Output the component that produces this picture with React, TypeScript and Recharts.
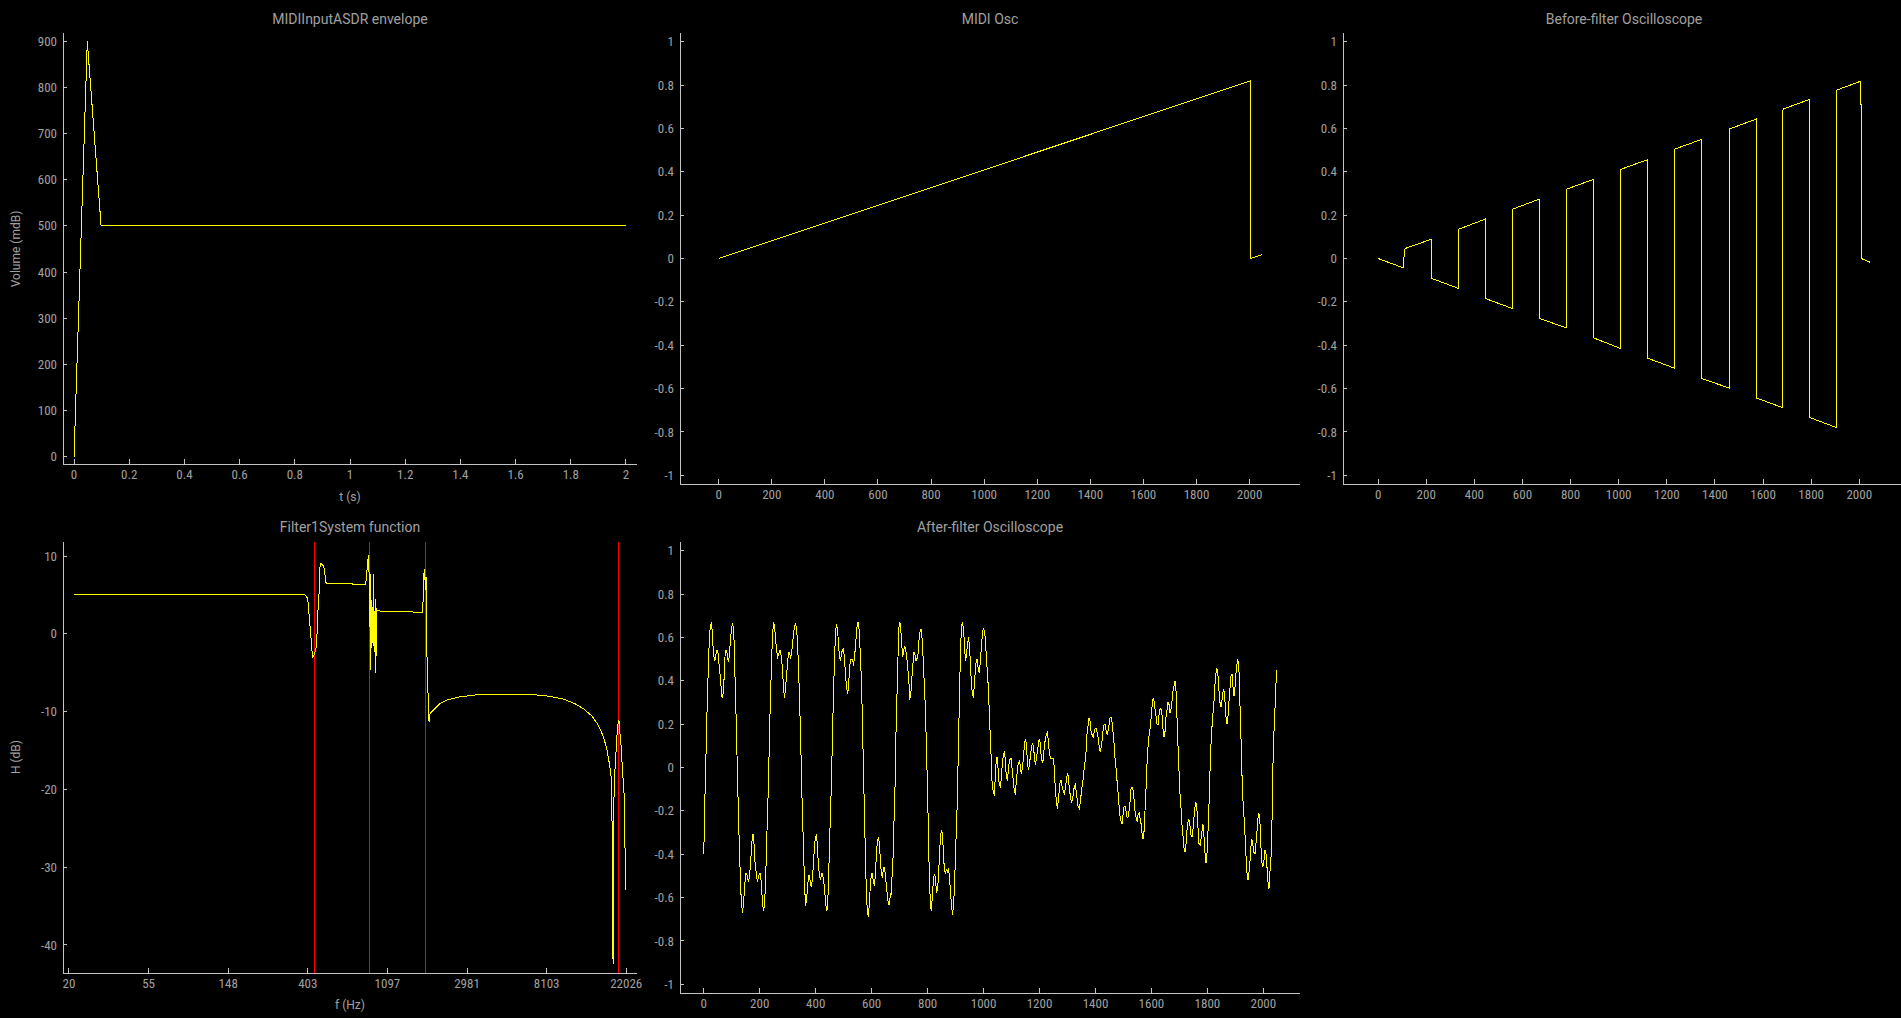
import React from 'react';
import { LineChart, Line, XAxis, YAxis, ReferenceLine } from 'recharts';

// ---------- data ----------
const asdrTime = [0, 0.048, 0.098, 2.0];
const asdrVolume = [0, 900, 500, 500];

const oscSample = [0, 2003, 2004, 2047];
const oscValue = [0, 0.819, 0, 0.018];

const beforeFilter: [number, number][] = [
  [0, 0], [107, -0.044], [108, 0.038], [112, 0.046], [222, 0.089], [223, -0.092], [334, -0.138],
  [335, 0.135], [446, 0.182], [447, -0.185], [559, -0.231], [560, 0.228], [671, 0.274],
  [672, -0.277], [783, -0.32], [784, 0.32], [895, 0.365], [896, -0.366], [1007, -0.415],
  [1008, 0.411], [1118, 0.455], [1120, 0.0], [1121, -0.46], [1230, -0.505], [1231, 0.055],
  [1233, 0.06], [1234, 0.505], [1344, 0.549], [1345, -0.554], [1459, -0.597], [1460, 0.597],
  [1571, 0.643], [1572, -0.643], [1682, -0.688], [1683, 0.689], [1794, 0.734], [1795, -0.734],
  [1906, -0.78], [1907, 0.777], [2007, 0.818], [2008, 0], [2046, -0.018],
];

const filterFreq = [
  21.5, 389.5, 403, 411, 418, 427, 430, 440, 447, 453, 458, 466, 470, 474, 484, 493, 499, 505, 511,
  835, 845, 856, 863, 870, 878, 885, 889, 900, 907, 923, 927, 942, 947, 959, 966, 1490, 1709,
  1722, 1730, 1752, 1765, 1781, 1796, 1803, 1826, 1850, 1873, 1953, 2124, 2310, 2731, 3408, 4405,
  6621, 8140, 9990, 11640, 12910, 14290, 15460, 16520, 17290, 17930, 18200, 18380, 18470, 18660,
  18870, 19070, 19360, 19560, 19880, 20080, 20280, 20590, 20900, 21250, 21570, 21790,
];
const filterGain = [
  5.0, 5.0, 4.53, 2.17, 0.04, -2.74, -3.04, -2.53, -1.9, 0.04, 2.81, 5.6, 8.59, 9.02, 8.93, 8.59, 7.95, 6.66, 6.46,
  6.37, 7.74, 9.02, 10.09, 8.17, 0.89, 7.74, -4.67, 4.31, -1.24, 7.74, -2.32, 4.53, -5.09, 3.25, 2.94, 2.81, 2.73,
  5.6, 7.52, 8.38, 5.6, 7.3, 6.02, -2.96, -7.66, -11.3, -10.23, -9.8, -8.94, -8.52, -8.1, -7.82, -7.74,
  -7.78, -7.99, -8.38, -9.02, -9.66, -10.56, -11.7, -13.2, -14.9, -17.05, -18.3, -20.9, -28.4, -42.5,
  -21.3, -17.9, -15.3, -13.3, -11.5, -11.07, -12.35, -14.06, -16.6, -19.4, -21.5, -32.9,
];
const cutoffFreqs = [440, 880, 1760, 20000];

const afterFilter: [number, number][] = [
  [0, -0.4], [3, -0.19], [7, 0.0], [10, 0.19], [14, 0.36], [17, 0.5], [21, 0.62], [25, 0.66], [28, 0.67], [32, 0.58],
  [35, 0.52], [39, 0.49], [42, 0.51], [46, 0.54], [50, 0.54], [53, 0.5], [57, 0.44], [60, 0.41], [64, 0.33], [67, 0.32],
  [71, 0.36], [75, 0.5], [78, 0.54], [82, 0.54], [85, 0.5], [89, 0.49], [92, 0.53], [96, 0.6], [100, 0.65], [103, 0.66],
  [107, 0.64], [110, 0.49], [114, 0.31], [117, 0.15], [121, -0.06], [124, -0.23], [128, -0.4], [132, -0.56], [135, -0.63],
  [139, -0.67], [142, -0.62], [146, -0.56], [149, -0.49], [153, -0.49], [157, -0.51], [160, -0.53], [164, -0.49],
  [167, -0.45], [171, -0.36], [174, -0.31], [178, -0.31], [182, -0.42], [185, -0.46], [189, -0.5], [192, -0.53],
  [196, -0.5], [199, -0.49], [203, -0.49], [207, -0.56], [210, -0.63], [214, -0.66], [217, -0.63], [221, -0.53],
  [224, -0.37], [228, -0.21], [232, -0.03], [235, 0.17], [239, 0.34], [242, 0.49], [246, 0.61], [249, 0.67], [253, 0.65],
  [257, 0.59], [260, 0.54], [264, 0.51], [267, 0.52], [271, 0.54], [274, 0.54], [278, 0.5], [282, 0.44], [285, 0.36],
  [289, 0.32], [292, 0.37], [296, 0.42], [299, 0.48], [303, 0.53], [307, 0.53], [310, 0.5], [314, 0.53], [317, 0.57],
  [321, 0.62], [324, 0.65], [328, 0.66], [332, 0.64], [335, 0.57], [339, 0.46], [342, 0.31], [346, 0.16], [349, -0.04],
  [353, -0.23], [357, -0.39], [360, -0.54], [364, -0.64], [367, -0.61], [371, -0.56], [374, -0.5], [378, -0.5],
  [382, -0.54], [385, -0.55], [389, -0.5], [392, -0.44], [396, -0.36], [399, -0.32], [403, -0.31], [407, -0.38],
  [410, -0.46], [414, -0.5], [417, -0.52], [421, -0.49], [424, -0.49], [428, -0.52], [432, -0.56], [435, -0.62],
  [439, -0.66], [442, -0.65], [446, -0.53], [449, -0.36], [453, -0.21], [457, -0.03], [460, 0.16], [464, 0.35],
  [467, 0.5], [471, 0.62], [474, 0.66], [478, 0.64], [482, 0.56], [485, 0.51], [489, 0.49], [492, 0.53], [496, 0.54],
  [499, 0.55], [503, 0.5], [507, 0.42], [510, 0.37], [514, 0.34], [517, 0.37], [521, 0.45], [524, 0.5], [528, 0.5],
  [532, 0.5], [535, 0.47], [539, 0.51], [542, 0.56], [546, 0.62], [549, 0.67], [553, 0.67], [557, 0.6], [560, 0.5],
  [564, 0.39], [567, 0.2], [571, -0.01], [574, -0.21], [578, -0.41], [581, -0.58], [585, -0.67], [589, -0.69],
  [592, -0.61], [596, -0.54], [599, -0.49], [603, -0.49], [606, -0.53], [610, -0.54], [614, -0.49], [617, -0.39],
  [621, -0.34], [624, -0.32], [628, -0.35], [631, -0.43], [635, -0.49], [639, -0.51], [642, -0.46], [646, -0.46],
  [649, -0.5], [653, -0.55], [656, -0.59], [660, -0.63], [664, -0.63], [667, -0.58],
  [670, -0.59], [673, -0.5], [677, -0.4], [679, -0.28], [683, -0.13], [686, 0.11], [690, 0.31], [694, 0.5], [697, 0.64],
  [701, 0.67], [704, 0.64], [708, 0.56], [711, 0.51], [715, 0.54], [718, 0.56], [722, 0.54], [726, 0.5], [729, 0.46],
  [733, 0.4], [736, 0.31], [740, 0.34], [743, 0.4], [747, 0.47], [751, 0.53], [754, 0.53], [758, 0.49], [761, 0.5],
  [765, 0.51], [768, 0.57], [772, 0.62], [776, 0.64], [779, 0.62], [783, 0.53], [786, 0.44], [790, 0.34], [793, 0.22],
  [797, 0.04], [801, -0.18], [804, -0.39], [808, -0.57], [811, -0.65], [814, -0.66], [817, -0.58], [821, -0.52],
  [824, -0.49], [828, -0.51], [832, -0.58], [835, -0.56], [839, -0.51], [842, -0.41], [846, -0.32], [849, -0.29],
  [853, -0.3], [857, -0.41], [860, -0.47], [864, -0.49], [867, -0.47], [871, -0.48], [874, -0.47], [878, -0.5],
  [882, -0.58], [885, -0.63], [889, -0.68], [892, -0.64], [896, -0.56], [899, -0.43], [903, -0.27], [907, -0.13],
  [910, 0.11], [914, 0.32], [917, 0.52], [921, 0.65], [924, 0.67], [928, 0.64], [932, 0.57], [935, 0.49], [939, 0.52],
  [942, 0.56], [946, 0.6], [949, 0.57], [953, 0.48], [956, 0.4], [960, 0.34], [964, 0.32], [967, 0.39], [971, 0.45],
  [974, 0.5], [978, 0.5], [981, 0.45], [985, 0.44], [989, 0.5], [992, 0.55], [996, 0.62], [999, 0.64], [1003, 0.63],
  [1006, 0.6], [1010, 0.51], [1014, 0.43], [1017, 0.37], [1021, 0.24], [1024, 0.14], [1028, 0.02], [1031, -0.09],
  [1035, -0.11], [1039, -0.13], [1042, -0.03], [1046, 0.04], [1049, 0.05], [1053, -0.03], [1056, -0.08], [1060, -0.09],
  [1064, -0.04], [1067, 0.02], [1071, 0.06], [1074, 0.07], [1078, 0.04], [1081, -0.04], [1085, -0.06], [1089, -0.01],
  [1092, 0.03], [1096, 0.04], [1099, 0.04], [1103, -0.02], [1106, -0.06], [1110, -0.11], [1114, -0.12], [1117, -0.06],
  [1121, -0.01], [1124, 0.02], [1128, 0.03], [1131, 0.01], [1135, -0.03], [1139, 0.0], [1142, 0.04], [1146, 0.1],
  [1149, 0.13], [1153, 0.11], [1156, 0.04], [1160, -0.01], [1164, 0.01], [1167, 0.05], [1171, 0.09], [1174, 0.11],
  [1178, 0.1], [1181, 0.06], [1185, 0.01], [1189, 0.04], [1192, 0.07], [1196, 0.11], [1199, 0.13], [1203, 0.11],
  [1206, 0.05], [1210, 0.02], [1214, 0.04], [1217, 0.1], [1221, 0.13], [1224, 0.15], [1228, 0.16], [1231, 0.13],
  [1235, 0.07], [1239, 0.04], [1242, 0.04], [1246, 0.04], [1249, 0.04], [1253, 0.0], [1256, -0.09], [1260, -0.15],
  [1264, -0.19], [1267, -0.15], [1271, -0.1], [1274, -0.06], [1278, -0.06], [1281, -0.09], [1285, -0.11], [1289, -0.12],
  [1292, -0.1], [1296, -0.06], [1299, -0.03], [1303, -0.04], [1306, -0.09], [1310, -0.13], [1314, -0.16], [1317, -0.15],
  [1321, -0.12], [1324, -0.09], [1328, -0.08], [1331, -0.11], [1335, -0.15], [1338, -0.18], [1342, -0.19], [1346, -0.16],
  [1349, -0.12], [1352, -0.09], [1356, -0.05], [1359, -0.01], [1363, 0.03], [1367, 0.08], [1370, 0.16], [1374, 0.2],
  [1377, 0.23], [1381, 0.21], [1384, 0.17], [1388, 0.15], [1392, 0.14], [1395, 0.16], [1399, 0.18], [1402, 0.18],
  [1406, 0.16], [1409, 0.14], [1413, 0.1], [1417, 0.07], [1420, 0.09], [1424, 0.13], [1427, 0.17], [1431, 0.2],
  [1434, 0.2], [1438, 0.17], [1442, 0.15], [1445, 0.17], [1449, 0.2], [1452, 0.23], [1456, 0.23], [1459, 0.21],
  [1463, 0.16], [1467, 0.1], [1470, 0.04], [1474, -0.01], [1477, -0.06], [1481, -0.12], [1484, -0.17], [1488, -0.23],
  [1492, -0.25], [1495, -0.26], [1499, -0.21], [1502, -0.18], [1506, -0.18], [1509, -0.2], [1513, -0.23], [1516, -0.23],
  [1520, -0.2], [1524, -0.15], [1527, -0.1], [1531, -0.09], [1534, -0.1], [1538, -0.15], [1541, -0.2], [1545, -0.23],
  [1549, -0.25], [1552, -0.22], [1556, -0.21], [1559, -0.23], [1563, -0.26], [1566, -0.3], [1570, -0.33], [1574, -0.29],
  [1577, -0.2], [1581, -0.09], [1584, 0.01], [1588, 0.1], [1591, 0.14], [1595, 0.18], [1599, 0.23], [1602, 0.28],
  [1606, 0.32], [1609, 0.31], [1613, 0.27], [1616, 0.24], [1620, 0.2], [1624, 0.2], [1627, 0.24], [1631, 0.27],
  [1634, 0.27], [1638, 0.24], [1641, 0.18], [1645, 0.14], [1649, 0.17], [1652, 0.23], [1656, 0.27], [1659, 0.3],
  [1663, 0.29], [1666, 0.25], [1670, 0.27], [1674, 0.31], [1677, 0.35], [1681, 0.38], [1684, 0.4], [1688, 0.35],
  [1691, 0.24], [1695, 0.1], [1699, -0.03], [1702, -0.12], [1706, -0.19], [1709, -0.26], [1713, -0.32], [1716, -0.37],
  [1720, -0.39], [1724, -0.35], [1727, -0.29], [1731, -0.25], [1734, -0.24], [1738, -0.27], [1741, -0.31], [1745, -0.32],
  [1749, -0.28], [1752, -0.23], [1756, -0.18], [1759, -0.16], [1763, -0.2], [1766, -0.27], [1770, -0.35], [1774, -0.36],
  [1777, -0.33], [1781, -0.29], [1784, -0.26], [1788, -0.32], [1791, -0.39], [1795, -0.44], [1799, -0.39], [1802, -0.3],
  [1806, -0.16], [1809, -0.03], [1813, 0.11], [1816, 0.18], [1820, 0.25], [1824, 0.31], [1827, 0.38], [1831, 0.44],
  [1834, 0.46], [1838, 0.42], [1841, 0.36], [1845, 0.3], [1849, 0.28], [1852, 0.31], [1856, 0.35], [1859, 0.36],
  [1863, 0.3], [1866, 0.24], [1870, 0.2], [1874, 0.24], [1877, 0.3], [1881, 0.37], [1884, 0.42], [1888, 0.43],
  [1891, 0.38], [1895, 0.33], [1898, 0.36], [1902, 0.43], [1906, 0.48], [1909, 0.5], [1913, 0.44], [1916, 0.31],
  [1920, 0.14], [1923, -0.01], [1927, -0.15], [1931, -0.23], [1934, -0.3], [1938, -0.41], [1941, -0.48], [1945, -0.52],
  [1948, -0.49], [1952, -0.44], [1956, -0.36], [1959, -0.33], [1963, -0.36], [1966, -0.39], [1970, -0.4], [1973, -0.36],
  [1977, -0.3], [1981, -0.23], [1984, -0.21], [1988, -0.26], [1991, -0.36], [1995, -0.44], [1998, -0.46], [2002, -0.43],
  [2006, -0.38], [2009, -0.39], [2013, -0.46], [2016, -0.52], [2020, -0.56], [2023, -0.49], [2027, -0.43], [2031, -0.24],
  [2035, 0.05], [2039, 0.2], [2043, 0.31], [2047, 0.45],
];

// tick values
const asdrXTicks = [0, 0.2, 0.4, 0.6, 0.8, 1, 1.2, 1.4, 1.6, 1.8, 2];
const asdrYTicks = [0, 100, 200, 300, 400, 500, 600, 700, 800, 900];
const sampleTicks = [0, 200, 400, 600, 800, 1000, 1200, 1400, 1600, 1800, 2000];
const unitTicks = [-1, -0.8, -0.6, -0.4, -0.2, 0, 0.2, 0.4, 0.6, 0.8, 1];
const gainTicks = [-40, -30, -20, -10, 0, 10];
const freqTickExponents = [3, 4, 5, 6, 7, 8, 9, 10];

// ---------- style ----------
const TICK_FONT = "'Roboto Condensed', Roboto, sans-serif";
const TITLE_FONT = "Roboto, sans-serif";
const TEXT = '#a0a0a0';
const AXIS = '#c4c4c4';
const YELLOW = '#ffff00';
const YW = 60;
const XH = 40;
const MR = 30;

const fmtNum = (v: number) => {
  const r = Math.round(v * 1000) / 1000;
  return (r === 0 ? 0 : r).toString();
};

const XTick = (props: any) => {
  const { x, y, payload, fmt } = props;
  return (
    <g>
      <line x1={x} x2={x} y1={y} y2={y - 5} stroke={AXIS} shapeRendering="crispEdges" />
      <text x={x} y={y + 14.7} textAnchor="middle" fill={TEXT} fontSize={13}
        style={{ fontFamily: TICK_FONT, fontStretch: 'condensed' }}>{fmt(payload.value)}</text>
    </g>
  );
};

const YTick = (props: any) => {
  const { x, y, payload, fmt } = props;
  return (
    <g>
      <line x1={x} x2={x + 4} y1={y} y2={y} stroke={AXIS} shapeRendering="crispEdges" />
      <text x={x - 6} y={y + 4.6} textAnchor="end" fill={TEXT} fontSize={13}
        style={{ fontFamily: TICK_FONT, fontStretch: 'condensed' }}>{fmt(payload.value)}</text>
    </g>
  );
};

type PanelProps = {
  left: number; top: number; right: number; bottom: number;
  data: { x: number; y: number }[];
  xDomain: [number, number]; yDomain: [number, number];
  xTicks: number[]; yTicks: number[];
  xFmt: (v: number) => string; yFmt: (v: number) => string;
  xScale?: 'linear' | 'log';
  refX?: number[];
};

function Panel(p: PanelProps) {
  const w = p.right - p.left + YW + MR;
  const h = p.bottom - p.top + XH;
  return (
    <div style={{ position: 'absolute', left: p.left - YW, top: p.top, width: w, height: h }}>
      <LineChart width={w} height={h} data={p.data} margin={{ top: 0, right: MR, bottom: 0, left: 0 }}>
        <XAxis type="number" dataKey="x" domain={p.xDomain} ticks={p.xTicks} scale={p.xScale || 'linear'}
          allowDataOverflow interval={0} tickSize={0} tickMargin={0} height={XH}
          axisLine={{ stroke: AXIS, shapeRendering: 'crispEdges' } as any} tickLine={false}
          tick={<XTick fmt={p.xFmt} />} />
        <YAxis type="number" dataKey="y" domain={p.yDomain} ticks={p.yTicks}
          allowDataOverflow interval={0} tickSize={0} tickMargin={0} width={YW}
          axisLine={{ stroke: AXIS, shapeRendering: 'crispEdges' } as any} tickLine={false}
          tick={<YTick fmt={p.yFmt} />} />
        {(p.refX || []).map((f) => (
          <ReferenceLine key={f} x={f} stroke="#ff0000" strokeWidth={1} ifOverflow="extendDomain" />
        ))}
        <Line type="linear" dataKey="y" stroke={YELLOW} strokeWidth={1} dot={false} activeDot={false}
          isAnimationActive={false} />
      </LineChart>
    </div>
  );
}

const asdrData = asdrTime.map((t, i) => ({ x: t, y: asdrVolume[i] }));
const oscData = oscSample.map((n, i) => ({ x: n, y: oscValue[i] }));
const beforeData = beforeFilter.map(([n, v]) => ({ x: n, y: v }));
const filterData = filterFreq.map((f, i) => ({ x: f, y: filterGain[i] }));
const afterData = afterFilter.map(([n, v]) => ({ x: n, y: v }));
const freqTicks = freqTickExponents.map((k) => Math.exp(k));

export default function App() {
  return (
    <div style={{ position: 'fixed', left: 0, top: 0, width: 1901, height: 1018, background: '#000', overflow: 'hidden' }}>
      <style>{`.recharts-line-curve{shape-rendering:crispEdges}.recharts-reference-line-line{shape-rendering:crispEdges}`}</style>
      <Panel left={63} top={33} right={637} bottom={464} data={asdrData}
        xDomain={[-0.04, 2.04]} yDomain={[-16, 918]} xTicks={asdrXTicks} yTicks={asdrYTicks}
        xFmt={fmtNum} yFmt={fmtNum} />
      <Panel left={680} top={33} right={1300} bottom={484} data={oscData}
        xDomain={[-146, 2190]} yDomain={[-1.04, 1.04]} xTicks={sampleTicks} yTicks={unitTicks}
        xFmt={fmtNum} yFmt={fmtNum} />
      <Panel left={1343} top={33} right={1905} bottom={484} data={beforeData}
        xDomain={[-146, 2190]} yDomain={[-1.04, 1.04]} xTicks={sampleTicks} yTicks={unitTicks}
        xFmt={fmtNum} yFmt={fmtNum} />
      <Panel left={63} top={542} right={637} bottom={973} data={filterData} xScale="log"
        xDomain={[Math.exp(2.925), Math.exp(10.135)]} yDomain={[-43.6, 11.8]} xTicks={freqTicks} yTicks={gainTicks}
        xFmt={(v) => String(Math.round(v))} yFmt={fmtNum} refX={cutoffFreqs} />
      <Panel left={680} top={542} right={1300} bottom={993} data={afterData}
        xDomain={[-85, 2131]} yDomain={[-1.04, 1.04]} xTicks={sampleTicks} yTicks={unitTicks}
        xFmt={fmtNum} yFmt={fmtNum} />
      <svg width={1901} height={1018} style={{ position: 'absolute', left: 0, top: 0, pointerEvents: 'none' }}>
        <g fill={TEXT} style={{ fontFamily: TITLE_FONT }}>
          <text x={350} y={24} fontSize={14} textAnchor="middle">MIDIInputASDR envelope</text>
          <text x={990} y={24} fontSize={14} textAnchor="middle">MIDI Osc</text>
          <text x={1624} y={24} fontSize={14} textAnchor="middle">Before-filter Oscilloscope</text>
          <text x={350} y={532} fontSize={14} textAnchor="middle">Filter1System function</text>
          <text x={990} y={532} fontSize={14} textAnchor="middle">After-filter Oscilloscope</text>
          <text x={350} y={501} fontSize={12} textAnchor="middle">t (s)</text>
          <text x={350} y={1009} fontSize={12} textAnchor="middle">f (Hz)</text>
          <text x={20} y={249} fontSize={12} textAnchor="middle" transform="rotate(-90 20 249)">Volume (mdB)</text>
          <text x={20} y={757} fontSize={12} textAnchor="middle" transform="rotate(-90 20 757)">H (dB)</text>
        </g>
      </svg>
    </div>
  );
}
